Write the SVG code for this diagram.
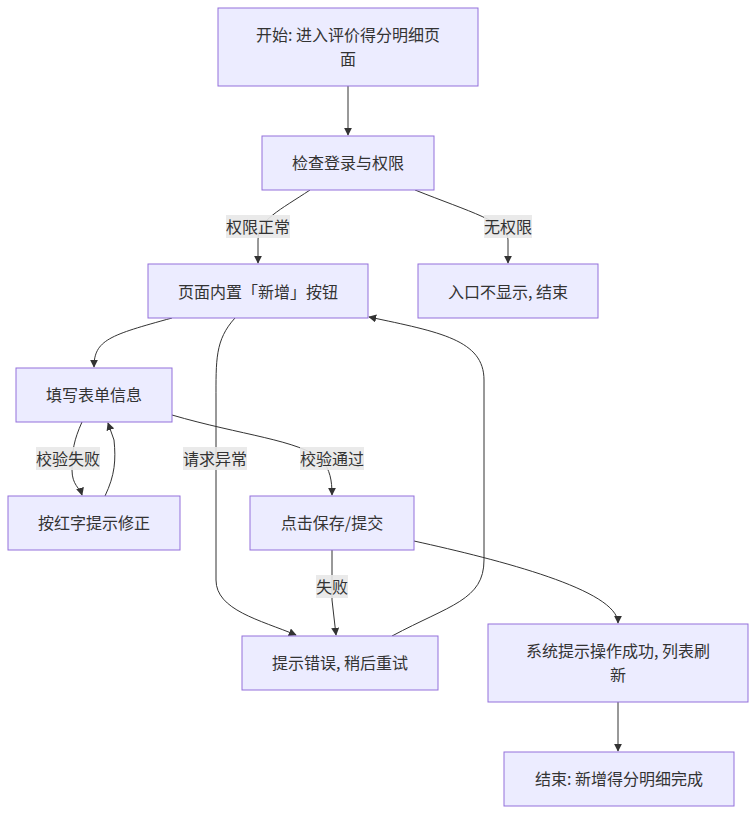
<svg xmlns="http://www.w3.org/2000/svg" width="756" height="814" viewBox="0 0 756 814">
<defs>
<marker id="arr" viewBox="0 0 10 10" refX="9" refY="5" markerWidth="8" markerHeight="8" markerUnits="userSpaceOnUse" orient="auto">
<path d="M0,0 L10,5 L0,10 z" fill="#333"/>
</marker>
<style>
.node rect{fill:#ECECFF;stroke:#9370DB;stroke-width:1}
text{font-family:"Noto Sans CJK SC","Liberation Sans",sans-serif;font-size:16px;fill:#333;text-anchor:middle;dominant-baseline:central}
.edge{fill:none;stroke:#333;stroke-width:1;marker-end:url(#arr)}
.lbl rect{fill:#e8e8e8;opacity:0.9}
</style>
</defs>
<rect width="756" height="814" fill="#fff"/>
<g id="connectors">
<path class="edge" d="M348,86 L348,135"/>
<path class="edge" d="M310,190 C280,210 258,220 258,240 L258,263"/>
<path class="edge" d="M415,190 C470,212 508,222 508,240 L508,263"/>
<path class="edge" d="M172,318 C110,335 94,340 94,367"/>
<path class="edge" d="M235,318 C215,340 216,360 216,400 L216,580 C216,610 260,620 296,635"/>
<path class="edge" d="M392,636 C450,605 484,600 484,560 L484,380 C484,340 440,332 369,317"/>
<path class="edge" d="M82,422 C74,440 72,450 72,470 C72,485 80,488 82,495"/>
<path class="edge" d="M105,496 C115,475 116,460 114,440 L108,423"/>
<path class="edge" d="M172,415 C240,435 300,440 322,460 C330,470 332,480 332,495"/>
<path class="edge" d="M332,550 L332,600 L336,635"/>
<path class="edge" d="M414,541 C500,560 618,590 618,623"/>
<path class="edge" d="M618,702 L618,751"/>
<g class="lbl"><rect x="226" y="215" width="64" height="23"/><text x="258" y="226">权限正常</text></g>
<g class="lbl"><rect x="484" y="215" width="48" height="23"/><text x="508" y="226">无权限</text></g>
<g class="lbl"><rect x="36" y="447" width="64" height="23"/><text x="68" y="458">校验失败</text></g>
<g class="lbl"><rect x="183" y="447" width="64" height="23"/><text x="215" y="458">请求异常</text></g>
<g class="lbl"><rect x="300" y="447" width="64" height="23"/><text x="332" y="458">校验通过</text></g>
<g class="lbl"><rect x="316" y="575" width="32" height="23"/><text x="332" y="586">失败</text></g>
</g>
<g id="A" class="node"><rect x="218" y="8" width="260" height="78"/><text x="348" y="34">开始: 进入评价得分明细页</text><text x="348" y="58">面</text></g>
<g id="B" class="node"><rect x="262" y="136" width="172" height="54"/><text x="348" y="162">检查登录与权限</text></g>
<g id="C" class="node"><rect x="148" y="264" width="220" height="54"/><text x="258" y="291">页面内置「新增」按钮</text></g>
<g id="D" class="node"><rect x="418" y="264" width="180" height="54"/><text x="508" y="291">入口不显示, 结束</text></g>
<g id="E" class="node"><rect x="16" y="368" width="156" height="54"/><text x="94" y="394">填写表单信息</text></g>
<g id="F" class="node"><rect x="8" y="496" width="172" height="54"/><text x="94" y="522">按红字提示修正</text></g>
<g id="G" class="node"><rect x="250" y="496" width="164" height="54"/><text x="332" y="522">点击保存/提交</text></g>
<g id="H" class="node"><rect x="242" y="636" width="196" height="54"/><text x="340" y="662">提示错误, 稍后重试</text></g>
<g id="I" class="node"><rect x="488" y="624" width="260" height="78"/><text x="618" y="650">系统提示操作成功, 列表刷</text><text x="618" y="674">新</text></g>
<g id="J" class="node"><rect x="504" y="752" width="230" height="54"/><text x="619" y="778">结束: 新增得分明细完成</text></g>
</svg>
